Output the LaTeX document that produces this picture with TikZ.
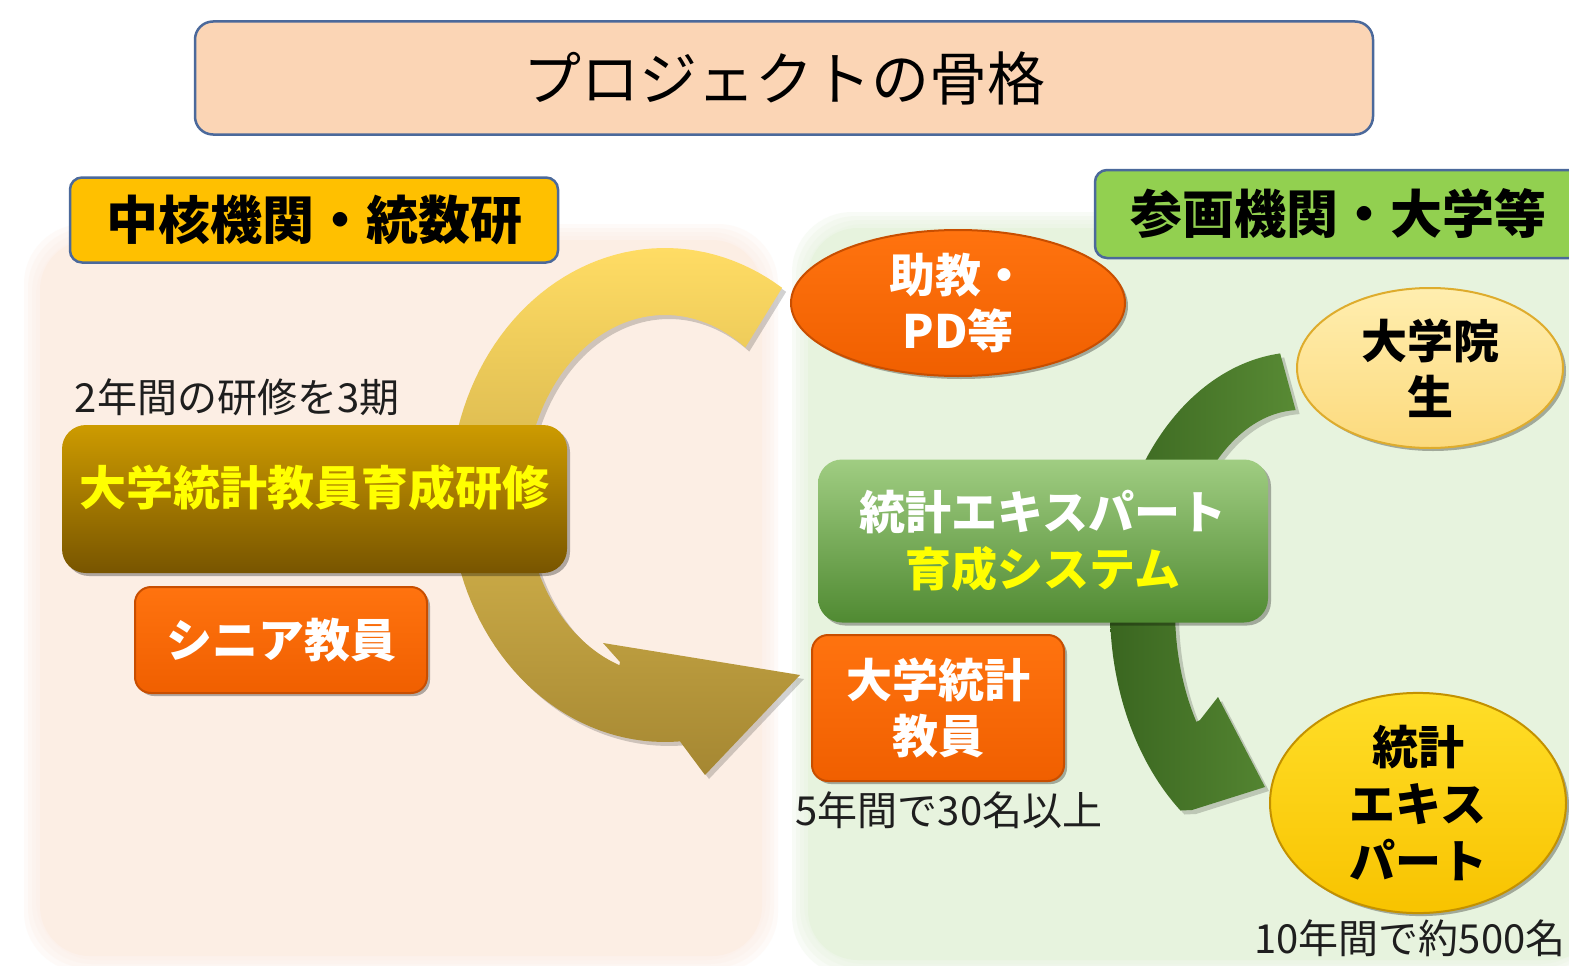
\documentclass[tikz,border=0pt]{standalone}
\usepackage{fontspec}
\setmainfont{Noto Sans CJK JP}
\usetikzlibrary{shapes.geometric,shadows}
\definecolor{titlefill}{RGB}{251,213,181}
\definecolor{boxborder}{RGB}{75,105,155}
\definecolor{headleft}{RGB}{255,192,0}
\definecolor{headright}{RGB}{146,208,80}
\definecolor{bgleft}{RGB}{252,238,228}
\definecolor{bgright}{RGB}{231,243,222}
\definecolor{ytop}{RGB}{255,220,100}
\definecolor{ybot}{RGB}{165,135,50}
\definecolor{gdark}{RGB}{58,102,32}
\definecolor{glight}{RGB}{88,138,52}
\definecolor{browntop}{RGB}{205,155,0}
\definecolor{brownbot}{RGB}{120,85,0}
\definecolor{orangetop}{RGB}{255,115,15}
\definecolor{orangebot}{RGB}{240,95,0}
\definecolor{orangedark}{RGB}{200,78,0}
\definecolor{greentop}{RGB}{160,205,130}
\definecolor{greenbot}{RGB}{80,138,50}
\definecolor{paletop}{RGB}{255,238,175}
\definecolor{palebot}{RGB}{252,218,125}
\definecolor{paleedge}{RGB}{222,172,45}
\definecolor{goldtop}{RGB}{255,222,40}
\definecolor{goldbot}{RGB}{248,195,0}
\definecolor{goldedge}{RGB}{195,145,0}
\definecolor{textyellow}{RGB}{255,255,0}
\definecolor{textdark}{RGB}{30,30,30}
\newcommand\myfs[2]{\fontsize{#1pt}{#2pt}\selectfont}
\newcommand\yarrowshape[1]{\path[#1] plot[domain=57:274,samples=90] ({665+215*cos(\x)},{495-247*sin(\x)}) -- (705,775) -- (800,675) -- (603,643) -- (620,662) -- plot[domain=251:55,samples=90] ({665+140*cos(\x)},{495-180*sin(\x)}) -- cycle;}
\newcommand\garrowshape[1]{\path[#1] plot[domain=96:231,samples=90] ({1300+190*cos(\x)},{610-258*sin(\x)}) -- (1192,810) -- (1265,787) -- (1218,697) -- (1200,720) -- plot[domain=214:92,samples=90] ({1300+125*cos(\x)},{610-200*sin(\x)}) -- cycle;}
\tikzset{
  every node/.style={inner sep=0pt},
  sh/.style={drop shadow={shadow xshift=3pt,shadow yshift=-3pt,opacity=.3,fill=black}},
  hdr/.style={draw=boxborder,line width=2.5pt,rounded corners=12pt,font=\myfs{52}{60}\bfseries},
  capt/.style={text=textdark,font=\myfs{40}{48}},
  orangebox/.style={sh,top color=orangetop,bottom color=orangebot,draw=orangedark,line width=2pt,rounded corners=16pt,text=white,font=\myfs{46}{56}\bfseries,align=center},
  orangeoval/.style={sh,ellipse,top color=orangetop,bottom color=orangebot,draw=orangedark,line width=2pt,text=white,font=\myfs{46}{56}\bfseries,align=center},
  paleoval/.style={sh,ellipse,top color=paletop,bottom color=palebot,draw=paleedge,line width=2pt,text=black,font=\myfs{46}{56}\bfseries,align=center},
  goldoval/.style={sh,ellipse,top color=goldtop,bottom color=goldbot,draw=goldedge,line width=2pt,text=black,font=\myfs{46}{57}\bfseries,align=center},
}
\begin{document}
\begin{tikzpicture}[x=1pt,y=-1pt]
\useasboundingbox (0,0) rectangle (1569,966);
\fill[white] (0,0) rectangle (1569,966);
% soft background regions (layered fade)
\foreach \d in {16,12,8,4} {
  \fill[bgleft,opacity=.25,rounded corners=60pt] ({40-\d},{240-\d}) rectangle ({762+\d},{956+\d});
  \fill[bgright,opacity=.25,rounded corners=60pt] ({808-\d},{228-\d}) rectangle (1600,{960+\d});
}
\fill[bgleft,rounded corners=50pt] (40,240) rectangle (762,956);
\fill[bgright,rounded corners=50pt] (808,228) rectangle (1600,960);
% circular arrows
\yarrowshape{fill=black,opacity=.18,shift={(4,4)}}
\yarrowshape{top color=ytop,bottom color=ybot}
\garrowshape{fill=black,opacity=.18,shift={(4,4)}}
\garrowshape{left color=gdark,right color=glight}
% title and headers
\node[draw=boxborder,line width=2.5pt,rounded corners=18pt,fill=titlefill,minimum width=1178pt,minimum height=113pt,font=\myfs{58}{66}] (title) at (784,78) {プロジェクトの骨格};
\node[hdr,fill=headleft,minimum width=488pt,minimum height=85pt] (core) at (314,220) {中核機関・統数研};
\node[hdr,fill=headright,minimum width=487pt,minimum height=88pt] (part) at (1338.5,214) {参画機関・大学等};
% left side
\node[capt] (period) at (237,397) {2年間の研修を3期};
\node[sh,top color=browntop,bottom color=brownbot,rounded corners=24pt,minimum width=505pt,minimum height=148pt,
  label={[yshift=11pt,text=textyellow,font=\myfs{47}{56}\bfseries]center:大学統計教員育成研修}] (kenshu) at (314.5,499) {};
\node[orangebox,minimum width=292pt,minimum height=106pt] (senior) at (281,640) {シニア教員};
% right side
\node[orangeoval,minimum width=334pt,minimum height=146pt] (jokyo) at (958,303) {助教・\\PD等};
\node[paleoval,minimum width=266pt,minimum height=160pt] (inst) at (1430,368) {大学院\\生};
\node[sh,top color=greentop,bottom color=greenbot,rounded corners=24pt,minimum width=450pt,minimum height=163pt,align=center,font=\myfs{46}{57}\bfseries] (system) at (1043,541) {\textcolor{white}{統計エキスパート}\\\textcolor{textyellow}{育成システム}};
\node[orangebox,minimum width=252pt,minimum height=146pt] (teacher) at (938,708) {大学統計\\教員};
\node[capt] (five) at (949,810) {5年間で30名以上};
\node[goldoval,minimum width=296pt,minimum height=214pt] (expert) at (1418,803) {統計\\エキス\\パート};
\node[capt] (ten) at (1410,938) {10年間で約500名};
\end{tikzpicture}
\end{document}
